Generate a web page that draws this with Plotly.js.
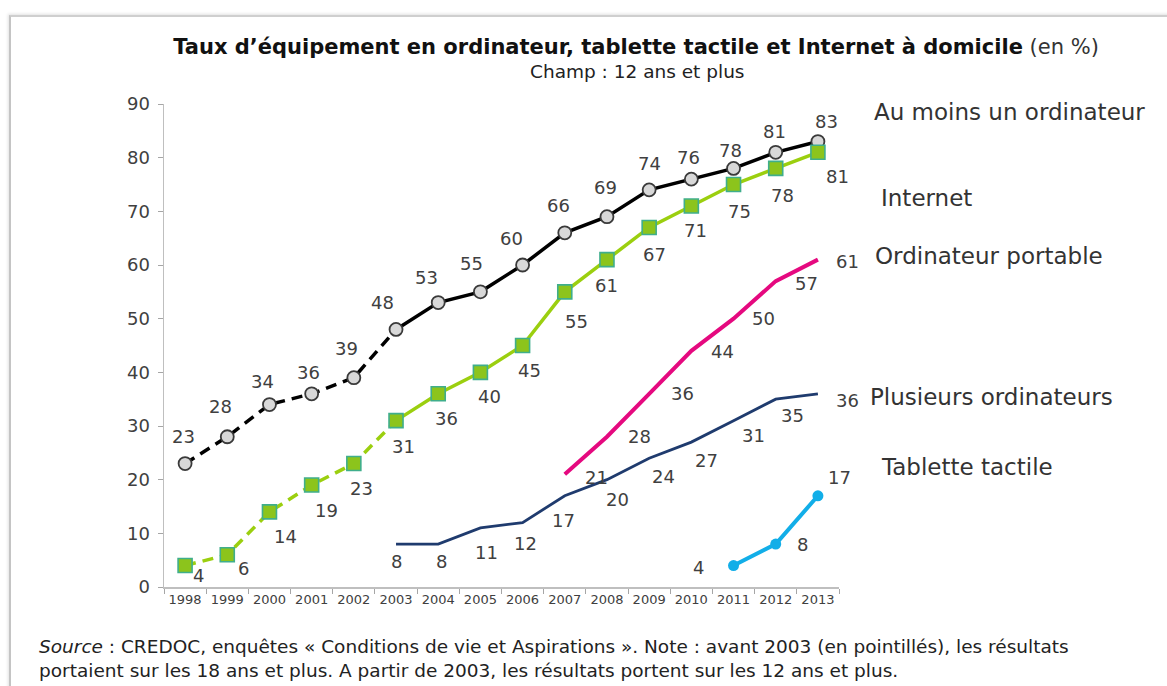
<!DOCTYPE html>
<html>
<head>
<meta charset="utf-8">
<script src="https://cdn.plot.ly/plotly-3.0.1.min.js"></script>
<style>
  html, body { margin: 0; padding: 0; background: #fff; }
  #wrap { position: relative; width: 1167px; height: 686px; overflow: hidden; }
  #chart { width: 1167px; height: 686px; }
  #frame { position: absolute; left: 9px; top: 15px; right: -10px; bottom: -10px;
           border-left: 2px solid #c4c4c4; border-top: 2px solid #cfcfcf;
           box-shadow: -1px -1px 3px rgba(0,0,0,0.12); pointer-events: none; }
</style>
</head>
<body>
<div id="wrap">
  <div id="chart"></div>
  <div id="frame"></div>
</div>
<script>
// ---- data ----
const years = ['1998','1999','2000','2001','2002','2003','2004','2005','2006','2007','2008','2009','2010','2011','2012','2013'];
const auMoinsUn = [23,28,34,36,39,48,53,55,60,66,69,74,76,78,81,83];
const internet  = [4,6,14,19,23,31,36,40,45,55,61,67,71,75,78,81];
const portableYears = ['2007','2008','2009','2010','2011','2012','2013'];
const portable = [21,28,36,44,50,57,61];
const plusieursYears = ['2003','2004','2005','2006','2007','2008','2009','2010','2011','2012','2013'];
const plusieurs = [8,8,11,12,17,20,24,27,31,35,36];
const tabletteYears = ['2011','2012','2013'];
const tablette = [4,8,17];
const seriesNames = ['Au moins un ordinateur','Internet','Ordinateur portable','Plusieurs ordinateurs','Tablette tactile'];
const splitIdx = 5; // 2003: before it the results covered 18+ (dashed)

// ---- label offsets (style, px) ----
const offAu = [[-2,27],[-7,30],[-7,23],[-3,21],[-7,29],[-14,27],[-12,25],[-9,28],[-11,27],[-6,27],[-1,29],[0,26],[-3,22],[-3,18],[-1,21],[9,20]];
const offNet = [[13,-10],[16,-14],[16,-25],[15,-25],[8,-25],[7,-26],[8,-25],[9,-24],[7,-25],[12,-30],[0,-26],[5,-27],[4,-25],[6,-27],[7,-27],[20,-24]];
const offPort = [[32,-3],[33,0],[33,0],[31,-1],[30,0],[31,-2],[30,-2]];
const offPlus = [[0,-17],[3,-17],[6,-25],[3,-21],[-1,-25],[11,-20],[14,-18],[15,-18],[20,-15],[17,-16],[30,-7]];
const offTab = [[-35,-2],[27,0],[22,18]];

const FONT = 'DejaVu Sans, Verdana, sans-serif';
const TXT = '#404040';

const cBlack = '#000000', cGreen = '#9bcf0f', cPink = '#e5097f', cNavy = '#1f3b6e', cBlue = '#12aee8';

const traces = [
  {x: years.slice(0, splitIdx+1), y: auMoinsUn.slice(0, splitIdx+1), mode: 'lines',
   line: {color: cBlack, width: 3.5, dash: '11px,7px'}, hoverinfo: 'skip'},
  {x: years.slice(splitIdx), y: auMoinsUn.slice(splitIdx), mode: 'lines',
   line: {color: cBlack, width: 3.5}, hoverinfo: 'skip'},
  {x: years.slice(0, splitIdx+1), y: internet.slice(0, splitIdx+1), mode: 'lines',
   line: {color: cGreen, width: 3.5, dash: '11px,7px'}, hoverinfo: 'skip'},
  {x: years.slice(splitIdx), y: internet.slice(splitIdx), mode: 'lines',
   line: {color: cGreen, width: 3.5}, hoverinfo: 'skip'},
  {x: portableYears, y: portable, mode: 'lines', line: {color: cPink, width: 4}, hoverinfo: 'skip'},
  {x: plusieursYears, y: plusieurs, mode: 'lines', line: {color: cNavy, width: 2.8}, hoverinfo: 'skip'},
  {x: tabletteYears, y: tablette, mode: 'lines+markers', line: {color: cBlue, width: 4},
   marker: {color: cBlue, size: 11}, hoverinfo: 'skip'},
  {x: years, y: auMoinsUn, mode: 'markers', hoverinfo: 'skip',
   marker: {symbol: 'circle', size: 13, color: '#d8d8d8', line: {color: '#3a3a3a', width: 1.8}}},
  {x: years, y: internet, mode: 'markers', hoverinfo: 'skip',
   marker: {symbol: 'square', size: 14, color: '#8cc41c', line: {color: '#3fae8c', width: 1.6}}}
];

function labels(xs, ys, offs) {
  return ys.map((v, i) => ({
    x: years.indexOf(xs[i]), y: v, xref: 'x', yref: 'y', text: String(v), showarrow: false,
    xanchor: 'center', yanchor: 'middle',
    xshift: offs[i][0], yshift: offs[i][1],
    font: {family: FONT, size: 18, color: TXT}
  }));
}

const W = 1167, H = 686, L = 164, R = 839, T = 104, B = 587;
const px = v => (v - L) / (R - L);
const py = v => (B - v) / (B - T);

const annotations = [].concat(
  labels(years, auMoinsUn, offAu),
  labels(years, internet, offNet),
  labels(portableYears, portable, offPort),
  labels(plusieursYears, plusieurs, offPlus),
  labels(tabletteYears, tablette, offTab)
);

const nameLabelPos = [[872,112],[879,198],[873,256],[868,397],[879,467]];
seriesNames.forEach((n, i) => annotations.push({
  xref: 'paper', yref: 'paper', x: px(nameLabelPos[i][0]), y: py(nameLabelPos[i][1]),
  xanchor: 'left', yanchor: 'middle', showarrow: false, text: n,
  font: {family: FONT, size: 23, color: '#333333'}
}));

annotations.push({
  xref: 'paper', yref: 'paper', x: px(637), y: py(71), xanchor: 'center', yanchor: 'middle',
  showarrow: false, text: 'Champ : 12 ans et plus', font: {family: FONT, size: 18.5, color: '#222'}
});
annotations.push({
  xref: 'paper', yref: 'paper', x: px(37), y: py(658), xanchor: 'left', yanchor: 'middle', align: 'left',
  showarrow: false,
  text: '<i>Source</i> : CREDOC, enquêtes « Conditions de vie et Aspirations ». Note : avant 2003 (en pointillés), les résultats<br>portaient sur les 18 ans et plus. A partir de 2003, les résultats portent sur les 12 ans et plus.',
  font: {family: FONT, size: 18.5, color: '#222'}
});

const layout = {
  width: W, height: H,
  margin: {l: L, r: W - R, t: T, b: H - B, pad: 0},
  paper_bgcolor: '#ffffff', plot_bgcolor: '#ffffff',
  showlegend: false,
  title: {
    text: '<b>Taux d’équipement en ordinateur, tablette tactile et Internet à domicile</b> <span style="color:#333">(en %)</span>',
    x: 636 / W, xanchor: 'center', xref: 'container',
    y: 1 - 47 / H, yanchor: 'middle', yref: 'container',
    font: {family: FONT, size: 21, color: '#111'}
  },
  xaxis: {
    type: 'category', categoryorder: 'array', categoryarray: years,
    range: [-0.5, years.length - 0.5], tickson: 'boundaries',
    ticks: 'outside', ticklen: 5, tickcolor: '#a6a6a6', tickwidth: 1,
    showline: true, linecolor: '#bfbfbf', linewidth: 1.5,
    showgrid: false, zeroline: false, fixedrange: true,
    tickfont: {family: FONT, size: 13, color: TXT}
  },
  yaxis: {
    range: [0, 90], dtick: 10, tick0: 0,
    ticks: 'outside', ticklen: 5, tickcolor: '#a6a6a6', tickwidth: 1,
    showline: true, linecolor: '#bfbfbf', linewidth: 1.5,
    showgrid: false, zeroline: false, fixedrange: true, ticklabelstandoff: 4,
    tickfont: {family: FONT, size: 18, color: TXT}
  },
  annotations: annotations
};

Plotly.newPlot('chart', traces, layout, {displayModeBar: false, staticPlot: true});
</script>
</body>
</html>
